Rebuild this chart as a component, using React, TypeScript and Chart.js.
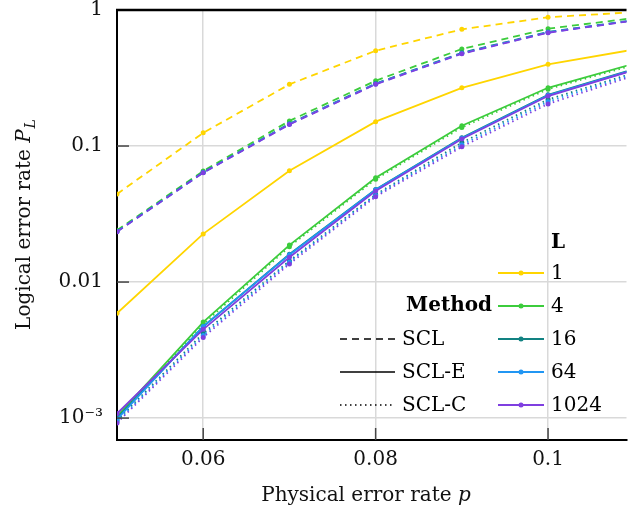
import React, { useEffect, useRef } from "react";
import { Chart, registerables } from "chart.js";
Chart.register(...registerables);

const pValues = [0.05, 0.06, 0.07, 0.08, 0.09, 0.1, 0.11];
const lSizes = ["1", "4", "16", "64", "1024"];
const lColors = ["#ffd500", "#3ccc3c", "#128282", "#2196f3", "#7f3fe0"];
const methods = ["SCL", "SCL-E", "SCL-C"];

const sclL1 = [0.0444, 0.125, 0.284, 0.502, 0.721, 0.884, 0.965];
const sclL4 = [0.024, 0.0655, 0.153, 0.302, 0.517, 0.729, 0.873];
const sclL16 = [0.0236, 0.0642, 0.146, 0.288, 0.485, 0.69, 0.843];
const sclL64 = [0.0235, 0.0638, 0.145, 0.286, 0.48, 0.685, 0.84];
const sclL1024 = [0.0234, 0.0636, 0.144, 0.284, 0.477, 0.681, 0.837];

const sclEL1 = [0.00589, 0.0226, 0.0658, 0.151, 0.268, 0.399, 0.512];
const sclEL4 = [0.00103, 0.00508, 0.0187, 0.0585, 0.141, 0.268, 0.404];
const sclEL16 = [0.001, 0.0047, 0.016, 0.048, 0.115, 0.238, 0.368];
const sclEL64 = [0.00098, 0.00472, 0.0159, 0.0478, 0.114, 0.236, 0.365];
const sclEL1024 = [0.00108, 0.00449, 0.0152, 0.0467, 0.1125, 0.233, 0.362];

const sclCL4 = [0.00102, 0.0049, 0.0182, 0.057, 0.137, 0.262, 0.395];
const sclCL16 = [0.00096, 0.0042, 0.0143, 0.044, 0.106, 0.22, 0.345];
const sclCL64 = [0.00094, 0.00405, 0.014, 0.0432, 0.102, 0.212, 0.338];
const sclCL1024 = [0.00092, 0.00392, 0.0136, 0.0424, 0.0988, 0.204, 0.33];

const yTickValues = [0.001, 0.01, 0.1, 1];
const yTickLabels = ["10⁻³", "0.01", "0.1", "1"];
const xTickValues = [0.06, 0.08, 0.1];
const xTickLabels = ["0.06", "0.08", "0.1"];

const FONT = "'DejaVu Serif', serif";

const sclSeries = [sclL1, sclL4, sclL16, sclL64, sclL1024];
const sclESeries = [sclEL1, sclEL4, sclEL16, sclEL64, sclEL1024];
const sclCSeries = [null, sclCL4, sclCL16, sclCL64, sclCL1024];
const methodDash = [[7, 5], [], [1.5, 3.5]];

export default function App() {
  const ref = useRef<HTMLCanvasElement>(null);
  useEffect(() => {
    const canvas = ref.current!;
    const datasets: any[] = [];
    const allSeries = [sclSeries, sclESeries, sclCSeries];
    for (let li = lSizes.length - 1; li >= 0; li--) {
      allSeries.forEach((ser, mi) => {
        const vals = ser[li];
        if (!vals) return;
        datasets.push({
          label: methods[mi] + " L=" + lSizes[li],
          data: pValues.map((p, i) => ({ x: p, y: vals[i] })),
          borderColor: lColors[li],
          backgroundColor: lColors[li],
          borderWidth: 1.8,
          borderDash: methodDash[mi],
          pointRadius: 2.5,
          pointBorderWidth: 0,
          pointHoverRadius: 2.5,
          tension: 0,
        });
      });
    }

    const overlay = {
      id: "overlay",
      afterDraw(chart: any) {
        const ctx = chart.ctx;
        const ca = chart.chartArea;
        const xs = chart.scales.x;
        const ys = chart.scales.y;
        ctx.save();
        ctx.strokeStyle = "#000";
        ctx.lineWidth = 2.5;
        ctx.beginPath();
        ctx.moveTo(ca.left - 1, ca.top);
        ctx.lineTo(ca.right, ca.top);
        ctx.stroke();
        ctx.strokeStyle = "#444";
        ctx.lineWidth = 1.5;
        xTickValues.forEach((v) => {
          const x = xs.getPixelForValue(v);
          ctx.beginPath();
          ctx.moveTo(x, ca.bottom);
          ctx.lineTo(x, ca.bottom - 12);
          ctx.stroke();
        });
        yTickValues.forEach((v) => {
          if (v >= 1) return;
          const y = ys.getPixelForValue(v);
          ctx.beginPath();
          ctx.moveTo(ca.left, y);
          ctx.lineTo(ca.left + 12, y);
          ctx.stroke();
        });
        ctx.fillStyle = "#111";
        ctx.textBaseline = "alphabetic";
        ctx.textAlign = "left";
        const f1 = "20px " + FONT;
        const f1i = "italic 20px " + FONT;
        ctx.font = f1;
        const t1 = "Physical error rate ";
        const w1 = ctx.measureText(t1).width;
        ctx.font = f1i;
        const w2 = ctx.measureText("p").width;
        const sx = 366 - (w1 + w2) / 2;
        ctx.font = f1;
        ctx.fillText(t1, sx, 501);
        ctx.font = f1i;
        ctx.fillText("p", sx + w1, 501);
        ctx.save();
        ctx.translate(30, 225);
        ctx.rotate(-Math.PI / 2);
        ctx.font = f1;
        const ty = "Logical error rate ";
        const wy = ctx.measureText(ty).width;
        ctx.font = f1i;
        const wp = ctx.measureText("P").width;
        ctx.font = "italic 14px " + FONT;
        const wl = ctx.measureText("L").width;
        const yx = -(wy + wp + wl) / 2;
        ctx.font = f1;
        ctx.fillText(ty, yx, 0);
        ctx.font = f1i;
        ctx.fillText("P", yx + wy, 0);
        ctx.font = "italic 14px " + FONT;
        ctx.fillText("L", yx + wy + wp + 1, 5);
        ctx.restore();

        const rows = [273, 306, 339, 372, 405];
        ctx.font = "bold 20px " + FONT;
        ctx.textBaseline = "middle";
        ctx.textAlign = "left";
        ctx.fillStyle = "#000";
        ctx.fillText("L", 551, 243);
        ctx.font = "20px " + FONT;
        lSizes.forEach((s, i) => {
          const y = rows[i];
          ctx.strokeStyle = lColors[i];
          ctx.lineWidth = 2;
          ctx.setLineDash([]);
          ctx.beginPath();
          ctx.moveTo(498, y);
          ctx.lineTo(544, y);
          ctx.stroke();
          ctx.fillStyle = lColors[i];
          ctx.beginPath();
          ctx.arc(521, y, 2.5, 0, Math.PI * 2);
          ctx.fill();
          ctx.fillStyle = "#000";
          ctx.fillText(s, 551, y + 1);
        });
        ctx.font = "bold 20px " + FONT;
        ctx.textAlign = "right";
        ctx.fillText("Method", 492, 306);
        ctx.font = "20px " + FONT;
        ctx.textAlign = "left";
        methods.forEach((m, i) => {
          const y = rows[i + 2];
          ctx.strokeStyle = "#000";
          ctx.lineWidth = 1.5;
          ctx.setLineDash(methodDash[i]);
          ctx.beginPath();
          ctx.moveTo(340, y);
          ctx.lineTo(395, y);
          ctx.stroke();
          ctx.setLineDash([]);
          ctx.fillText(m, 402, y + 1);
        });
        ctx.restore();
      },
    };

    const chart = new Chart(canvas, {
      type: "line",
      data: { datasets },
      options: {
        animation: false,
        responsive: false,
        layout: { padding: { top: 10, left: 0, right: 0, bottom: 0 } },
        plugins: { legend: { display: false }, tooltip: { enabled: false } },
        scales: {
          x: {
            type: "linear",
            min: 0.05,
            max: 0.1091,
            afterBuildTicks: (s: any) => {
              s.ticks = xTickValues.map((v) => ({ value: v }));
            },
            afterFit: (s: any) => {
              s.height = 74;
              s.paddingLeft = 0;
              s.paddingRight = 0;
            },
            ticks: {
              callback: (v: any) => {
                const i = xTickValues.findIndex((t) => Math.abs(t - v) < 1e-9);
                return i >= 0 ? xTickLabels[i] : "";
              },
              font: { family: FONT, size: 20 },
              color: "#111",
              padding: 8,
              maxRotation: 0,
              autoSkip: false,
            },
            grid: { color: "#d9d9d9", lineWidth: 1.5, drawTicks: false },
            border: { color: "#000", width: 2 },
          },
          y: {
            type: "logarithmic",
            min: 0.00069,
            max: 1,
            afterBuildTicks: (s: any) => {
              s.ticks = yTickValues.map((v) => ({ value: v }));
            },
            afterFit: (s: any) => {
              s.width = 117;
              s.paddingTop = 0;
              s.paddingBottom = 0;
            },
            ticks: {
              callback: (v: any) => {
                const i = yTickValues.findIndex((t) => Math.abs(t - v) / t < 1e-6);
                return i >= 0 ? yTickLabels[i] : "";
              },
              font: { family: FONT, size: 20 },
              color: "#111",
              padding: 14,
              autoSkip: false,
            },
            grid: { color: "#d9d9d9", lineWidth: 1.5, drawTicks: false },
            border: { color: "#000", width: 2 },
          },
        },
      },
      plugins: [overlay],
    } as any);
    return () => chart.destroy();
  }, []);
  return (
    <div style={{ position: "fixed", left: 0, top: 0, width: 629, height: 514, background: "#fff" }}>
      <canvas ref={ref} width={629} height={514} style={{ display: "block" }} />
    </div>
  );
}
